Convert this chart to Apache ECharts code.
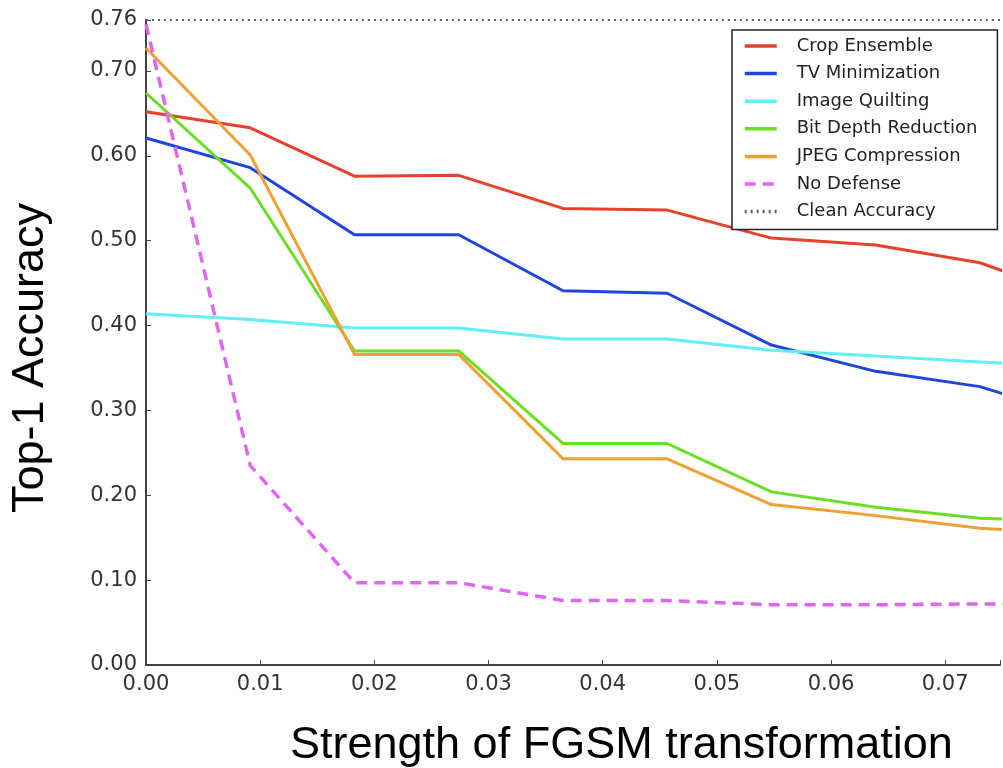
<!DOCTYPE html>
<html>
<head>
<meta charset="utf-8">
<script src="https://cdn.jsdelivr.net/npm/echarts@6/dist/echarts.min.js"></script>
<style>
  html, body { margin: 0; padding: 0; background: #fff; }
  #chart { width: 1003px; height: 768px; }
</style>
</head>
<body>
<div id="chart"></div>
<script>
// FGSM strength (x) for each measured point
const eps = [0, 0.00913, 0.01826, 0.02739, 0.03652, 0.04565, 0.05478, 0.06391, 0.07304, 0.08217];

const cropEnsemble = [0.652, 0.633, 0.576, 0.577, 0.538, 0.536, 0.503, 0.495, 0.474, 0.430];
const tvMinimization = [0.621, 0.586, 0.507, 0.507, 0.441, 0.438, 0.377, 0.346, 0.328, 0.290];
const imageQuilting = [0.414, 0.407, 0.397, 0.397, 0.384, 0.384, 0.371, 0.364, 0.357, 0.352];
const bitDepth = [0.674, 0.562, 0.370, 0.370, 0.261, 0.261, 0.204, 0.186, 0.173, 0.168];
const jpegCompression = [0.727, 0.601, 0.366, 0.366, 0.243, 0.243, 0.189, 0.176, 0.161, 0.155];
const noDefense = [0.755, 0.235, 0.097, 0.097, 0.076, 0.076, 0.071, 0.071, 0.072, 0.072];
const cleanAccuracy = 0.76;

const yTicks = [0, 0.1, 0.2, 0.3, 0.4, 0.5, 0.6, 0.7, 0.76];
const xTicks = [0, 0.01, 0.02, 0.03, 0.04, 0.05, 0.06, 0.07];

const pairs = (ys) => ys.map((y, i) => [eps[i], y]);

function lineSeries(name, ys, color, extra){
  return Object.assign({
    name: name,
    type: 'line',
    data: pairs(ys),
    symbol: 'none',
    lineStyle: {color: color, width: 3},
    itemStyle: {color: color},
    z: 3
  }, extra || {});
}

const isTick = (list, v) => list.some(t => Math.abs(t - v) < 1e-6);

const chart = echarts.init(document.getElementById('chart'), null, {renderer: 'canvas'});

chart.setOption({
  backgroundColor: '#fff',
  animation: false,
  grid: {left: 146, right: 0, top: 20, bottom: 103},
  xAxis: {
    type: 'value',
    min: 0,
    max: 0.0748,
    interval: 0.01,
    splitLine: {show: false},
    axisLine: {lineStyle: {color: '#444', width: 2}},
    axisTick: {inside: true, length: 5, lineStyle: {color: '#444', width: 1}},
    axisLabel: {
      margin: 9,
      fontFamily: 'DejaVu Sans',
      fontSize: 21,
      color: '#333',
      formatter: v => isTick(xTicks, v) ? v.toFixed(2) : ''
    }
  },
  yAxis: {
    type: 'value',
    min: 0,
    max: 0.76,
    interval: 0.1,
    splitLine: {show: false},
    axisLine: {lineStyle: {color: '#444', width: 2}},
    axisTick: {inside: true, length: 5, lineStyle: {color: '#444', width: 1}},
    axisLabel: {
      margin: 9,
      fontFamily: 'DejaVu Sans',
      fontSize: 21,
      color: '#333',
      formatter: v => isTick(yTicks, v) ? v.toFixed(2) : ''
    }
  },
  legend: {
    orient: 'vertical',
    left: 732,
    top: 30,
    padding: [7, 20, 9, 11],
    itemWidth: 32,
    itemHeight: 18,
    itemGap: 9.6,
    backgroundColor: '#fff',
    borderColor: '#222',
    borderWidth: 1.5,
    borderRadius: 0,
    itemStyle: {color: 'rgba(0,0,0,0)', borderWidth: 0, opacity: 0},
    lineStyle: {width: 3.5},
    textStyle: {
      fontFamily: 'DejaVu Sans',
      fontSize: 18,
      color: '#222',
      lineHeight: 18,
      padding: [0, 0, 0, 15]
    },
    data: ['Crop Ensemble', 'TV Minimization', 'Image Quilting', 'Bit Depth Reduction',
      'JPEG Compression', 'No Defense', 'Clean Accuracy']
  },
  graphic: [
    {
      type: 'text',
      left: 290,
      top: 723,
      style: {
        text: 'Strength of FGSM transformation',
        fontFamily: 'Liberation Sans',
        fontSize: 45,
        fill: '#000'
      }
    },
    {
      type: 'text',
      x: 31,
      y: 358,
      rotation: Math.PI / 2,
      style: {
        text: 'Top-1 Accuracy',
        fontFamily: 'Liberation Sans',
        fontSize: 45,
        fill: '#000',
        align: 'center',
        verticalAlign: 'middle'
      }
    }
  ],
  series: [
    lineSeries('Crop Ensemble', cropEnsemble, '#e5412d'),
    lineSeries('TV Minimization', tvMinimization, '#1f45e0'),
    lineSeries('Image Quilting', imageQuilting, '#62eef6'),
    lineSeries('Bit Depth Reduction', bitDepth, '#6ade22'),
    lineSeries('JPEG Compression', jpegCompression, '#efa033'),
    lineSeries('No Defense', noDefense, '#df66f2', {
      lineStyle: {color: '#df66f2', width: 3.5, type: [11, 7]}
    }),
    {
      name: 'Clean Accuracy',
      type: 'line',
      data: [[0, cleanAccuracy], [eps[eps.length - 1], cleanAccuracy]],
      symbol: 'none',
      clip: false,
      lineStyle: {color: '#555', width: 1.8, type: [1.8, 4.2]},
      itemStyle: {color: '#555'},
      z: 2
    }
  ]
});
</script>
</body>
</html>
